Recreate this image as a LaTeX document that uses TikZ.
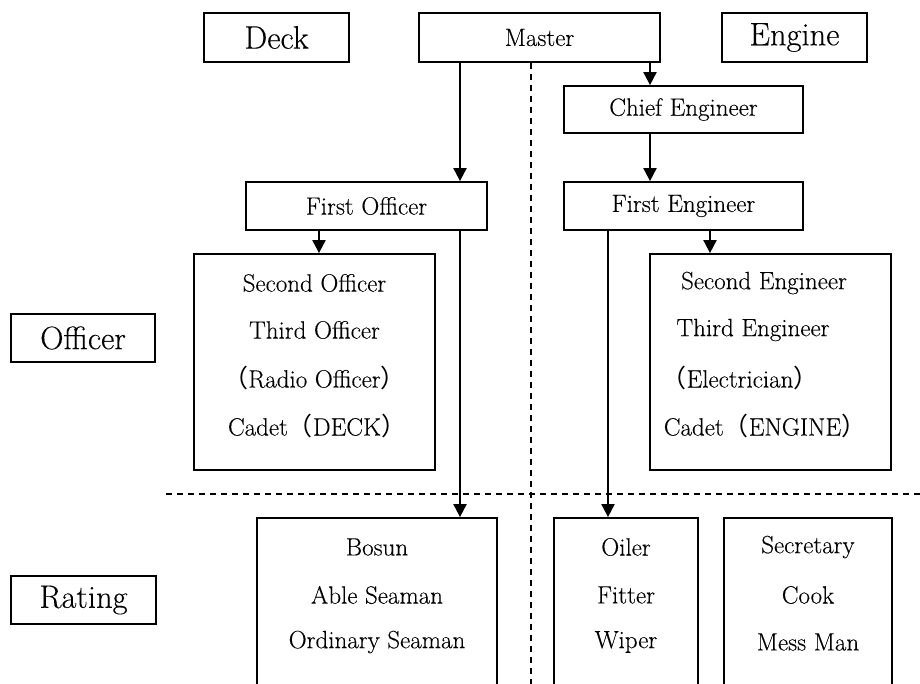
\documentclass[tikz,border=0pt]{standalone}
\usepackage{fontspec}
\setmainfont{Latin Modern Roman}[FakeBold=0.2]
\newfontfamily\cjk{Noto Sans CJK JP}
\usetikzlibrary{arrows.meta}
\newcommand{\bigtxt}{\fontsize{32.5}{38}\selectfont}
\newcommand{\midtxt}{\fontsize{25}{30}\selectfont}
\newcommand{\lp}{{\cjk （}}
\newcommand{\rp}{{\cjk ）}}
\tikzset{
  boxnode/.style={draw, line width=1.8pt, inner sep=0pt, rectangle, anchor=center},
  bigbox/.style={boxnode, font=\bigtxt},
  midbox/.style={boxnode, font=\midtxt},
  txt/.style={inner sep=0pt, font=\midtxt, anchor=center},
  arr/.style={line width=2pt, -{Triangle[width=13pt,length=13pt]}},
  sep/.style={line width=1.5pt, dash pattern=on 6pt off 5pt}
}
\begin{document}
\begin{tikzpicture}[x=1pt,y=-1pt]
\useasboundingbox (0,0) rectangle (920,683);
\clip (0,0) rectangle (920,683);
% header labels
\node[bigbox, minimum width=145pt, minimum height=49pt] (deck) at (276.5,37.5) {Deck};
\node[midbox, minimum width=241pt, minimum height=49pt] (master) at (539.5,37.5) {Master};
\node[bigbox, minimum width=145pt, minimum height=49pt] (engine) at (794.5,37.5) {Engine};
% side labels
\node[bigbox, minimum width=144pt, minimum height=48pt] (officer) at (83,338) {Officer};
\node[bigbox, minimum width=145pt, minimum height=48pt] (rating) at (83.5,600) {Rating};
% officer level
\node[midbox, minimum width=239pt, minimum height=47pt] (chief) at (683.5,109.5) {Chief Engineer};
\node[midbox, minimum width=241pt, minimum height=48pt] (fo) at (366.5,206) {First Officer};
\node[midbox, minimum width=239pt, minimum height=48pt] (fe) at (683.5,206) {First Engineer};
\node[boxnode, minimum width=241pt, minimum height=216pt] (offbox) at (314.5,362) {};
\node[boxnode, minimum width=241pt, minimum height=216pt] (engbox) at (770.5,362) {};
\node[txt] (o1) at (314.5,283) {Second Officer};
\node[txt] (o2) at (314.5,330) {Third Officer};
\node[txt] (o3) at (314.5,378) {\lp Radio Officer\rp};
\node[txt] (o4) at (317,426) {Cadet\lp DECK\rp};
\node[txt] (e1) at (764,283) {Second Engineer};
\node[txt] (e2) at (753,330) {Third Engineer};
\node[txt] (e3) at (740,378) {\lp Electrician\rp};
\node[txt] (e4) at (765,426) {Cadet\lp ENGINE\rp};
% rating level
\node[boxnode, minimum width=240pt, minimum height=190pt] (bosunbox) at (377,613) {};
\node[boxnode, minimum width=144pt, minimum height=190pt] (oilerbox) at (626,613) {};
\node[boxnode, minimum width=168pt, minimum height=190pt] (secbox) at (808,613) {};
\node[txt] (b1) at (377,547) {Bosun};
\node[txt] (b2) at (377,595) {Able Seaman};
\node[txt] (b3) at (377,642) {Ordinary Seaman};
\node[txt] (r1) at (626,547) {Oiler};
\node[txt] (r2) at (626,595) {Fitter};
\node[txt] (r3) at (626,642) {Wiper};
\node[txt] (s1) at (808,547) {Secretary};
\node[txt] (s2) at (808,595) {Cook};
\node[txt] (s3) at (808,642) {Mess Man};
% separators
\coordinate (vtop) at (531,0);
\coordinate (vbot) at (531,700);
\coordinate (hl) at (166,494);
\coordinate (hr) at (925,494);
\draw[sep] (master.south -| vtop) -- (vbot);
\draw[sep] (hl) -- (hr);
% connector x positions
\coordinate (xa) at (460,0);
\coordinate (xb) at (650,0);
\coordinate (xc) at (319,0);
\coordinate (xd) at (710,0);
\coordinate (xe) at (608,0);
\draw[arr] (master.south -| xa) -- (fo.north -| xa);
\draw[arr] (master.south -| xb) -- (chief.north -| xb);
\draw[arr] (chief.south -| xb) -- (fe.north -| xb);
\draw[arr] (fo.south -| xc) -- (offbox.north -| xc);
\draw[arr] (fo.south -| xa) -- (bosunbox.north -| xa);
\draw[arr] (fe.south -| xd) -- (engbox.north -| xd);
\draw[arr] (fe.south -| xe) -- (oilerbox.north -| xe);
\end{tikzpicture}
\end{document}
